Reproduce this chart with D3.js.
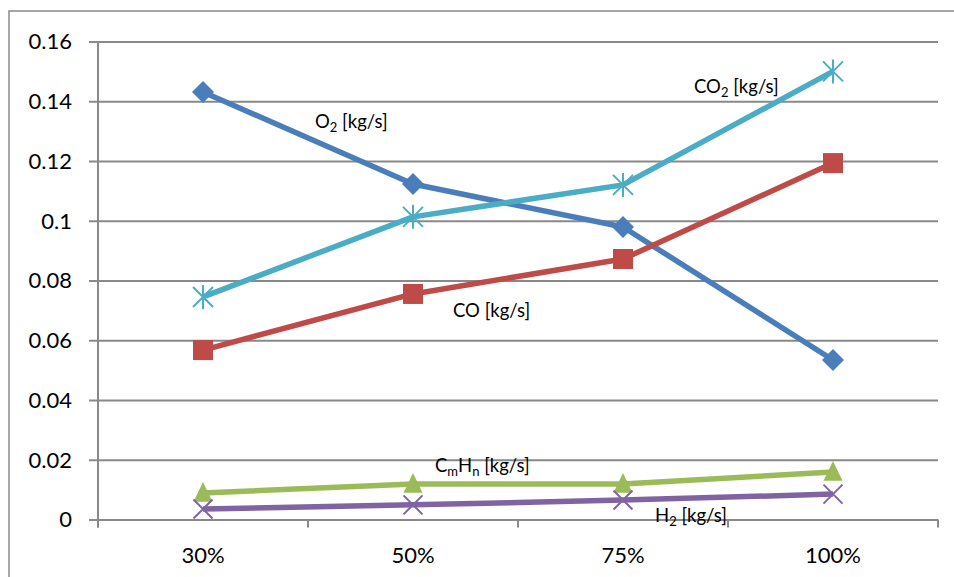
<!DOCTYPE html>
<html><head><meta charset="utf-8">
<script src="https://cdn.jsdelivr.net/npm/d3@7"></script>
<style>body{margin:0;background:#fff}svg{display:block}</style></head>
<body><svg id="c" width="954" height="577"></svg>
<script>
const categories = ["30%", "50%", "75%", "100%"];
const o2   = [0.1431, 0.1123, 0.0979, 0.0534];
const co   = [0.0567, 0.0755, 0.0872, 0.1193];
const co2  = [0.0745, 0.1013, 0.1120, 0.1500];
const cmhn = [0.0089, 0.0119, 0.0119, 0.0159];
const h2   = [0.0035, 0.0049, 0.0065, 0.0085];
const yTicks = [0, 0.02, 0.04, 0.06, 0.08, 0.1, 0.12, 0.14, 0.16];
const yTickLabels = ["0", "0.02", "0.04", "0.06", "0.08", "0.1", "0.12", "0.14", "0.16"];

const series = [
  {name:[["O",0],["2",1],[" [kg/s]",0]], values:o2, color:"#4a7ebb", marker:"diamond", lx:0, dx:112, dy:36},
  {name:[["CO [kg/s]",0]], values:co, color:"#be4b48", marker:"square", lx:1, dx:40, dy:23},
  {name:[["CO",0],["2",1],[" [kg/s]",0]], values:co2, color:"#4bacc6", marker:"star", lx:3, dx:-139, dy:22},
  {name:[["C",0],["m",1],["H",0],["n",1],[" [kg/s]",0]], values:cmhn, color:"#9bbb59", marker:"triangle", lx:1, dx:22, dy:-12},
  {name:[["H",0],["2",1],[" [kg/s]",0]], values:h2, color:"#8064a2", marker:"x", lx:2, dx:32, dy:22}
];

const svg = d3.select("#c");
const FONT = "Lato, 'Open Sans', sans-serif";
const pLeft = 98, pRight = 938, pTop = 41.5, pBottom = 519.5;
const x = d3.scaleBand().domain(categories).range([pLeft, pRight]);
const xc = c => x(c) + x.bandwidth() / 2;
const y = d3.scaleLinear().domain([0, 0.16]).range([pBottom, pTop]);
const gridColor = "#898989";

// outer border
svg.append("rect").attr("x", 9).attr("y", 11).attr("width", 960).attr("height", 600)
  .attr("fill", "none").attr("stroke", gridColor).attr("stroke-width", 1.5);

// gridlines + y ticks
const yAxis = d3.axisLeft(y).tickValues(yTicks).tickSize(-(pRight - pLeft)).tickSizeOuter(0)
  .tickFormat((d, i) => yTickLabels[i]);
const gy = svg.append("g").attr("transform", `translate(${pLeft},0)`).call(yAxis);
gy.select(".domain").remove();
gy.selectAll(".tick line").attr("x1", -9).attr("stroke", gridColor).attr("stroke-width", 2);
gy.selectAll(".tick text").attr("x", -26).attr("font-family", FONT).attr("font-size", 22)
  .attr("fill", "#000").attr("dy", "0.34em");

// y axis line
svg.append("line").attr("x1", pLeft).attr("x2", pLeft).attr("y1", pTop).attr("y2", pBottom + 8)
  .attr("stroke", gridColor).attr("stroke-width", 2);

// x axis
const xAxis = d3.axisBottom(x).tickSize(0).tickSizeOuter(0);
const gx = svg.append("g").attr("transform", `translate(0,${pBottom})`).call(xAxis);
gx.select(".domain").remove();
gx.selectAll(".tick text").attr("y", 43).attr("dy", 0).attr("font-family", FONT).attr("font-size", 22).attr("fill", "#000");
// category boundary ticks
const bounds = categories.map(c => x(c)).concat([pRight]);
svg.append("g").selectAll("line").data(bounds).join("line")
  .attr("x1", d => d).attr("x2", d => d).attr("y1", pBottom).attr("y2", pBottom + 8)
  .attr("stroke", gridColor).attr("stroke-width", 2);

// series
function drawMarker(g, type, cx, cy, color) {
  if (type === "diamond") {
    const r = 11;
    g.append("path").attr("d", `M${cx},${cy - r}L${cx + r},${cy}L${cx},${cy + r}L${cx - r},${cy}Z`).attr("fill", color);
  } else if (type === "square") {
    const s = 20;
    g.append("rect").attr("x", cx - s / 2).attr("y", cy - s / 2).attr("width", s).attr("height", s).attr("fill", color);
  } else if (type === "triangle") {
    const w = 9.5, h = 11;
    g.append("path").attr("d", `M${cx},${cy - h}L${cx + w},${cy + h * 0.8}L${cx - w},${cy + h * 0.8}Z`).attr("fill", color);
  } else if (type === "star") {
    const r = 10;
    g.append("path").attr("d", `M${cx - r},${cy - r}L${cx + r},${cy + r}M${cx - r},${cy + r}L${cx + r},${cy - r}M${cx},${cy - r * 1.2}L${cx},${cy + r * 1.2}`)
      .attr("stroke", color).attr("stroke-width", 2).attr("fill", "none");
  } else if (type === "x") {
    const r = 9.5;
    g.append("path").attr("d", `M${cx - r},${cy - r}L${cx + r},${cy + r}M${cx - r},${cy + r}L${cx + r},${cy - r}`)
      .attr("stroke", color).attr("stroke-width", 2).attr("fill", "none");
  }
}

const line = d3.line().x((d, i) => xc(categories[i])).y(d => y(d));
series.forEach(s => {
  const g = svg.append("g");
  g.append("path").datum(s.values).attr("d", line).attr("fill", "none")
    .attr("stroke", s.color).attr("stroke-width", 5.5).attr("stroke-linejoin", "round");
  s.values.forEach((v, i) => drawMarker(g, s.marker, xc(categories[i]), y(v), s.color));
});

// series labels
series.forEach(s => {
  const t = svg.append("text").attr("x", xc(categories[s.lx]) + s.dx).attr("y", y(s.values[s.lx]) + s.dy)
    .attr("font-family", FONT).attr("font-size", 18.5).attr("fill", "#000");
  s.name.forEach(([txt, sub], k) => {
    const ts = t.append("tspan").text(txt);
    if (sub) ts.attr("font-size", 13).attr("dy", 4);
    else if (k > 0 && s.name[k - 1][1]) ts.attr("dy", -4);
  });
});
</script></body></html>
